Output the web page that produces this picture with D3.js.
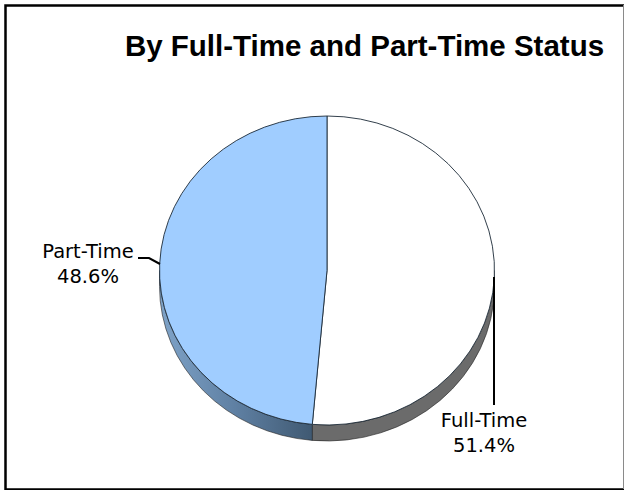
<!DOCTYPE html>
<html><head><meta charset="utf-8">
<script src="https://cdn.jsdelivr.net/npm/d3@7/dist/d3.min.js"></script>
<style>html,body{margin:0;padding:0;background:#fff}svg{display:block}</style></head>
<body><svg id="c" width="624" height="490"></svg>
<script>
const categories = ["Full-Time", "Part-Time"];
const shares = [51.4, 48.6];
const topColors = ["#ffffff", "#a0cdff"];
const title = "By Full-Time and Part-Time Status";

const svg = d3.select("#c");
const cx = 327, cy = 270.5, rx = 167.5, ry = 154.5, depth = 16;

// frame: black left, top and bottom, thin grey right edge
svg.append("path").attr("d","M624,5.5H5.5V489.5H624").attr("fill","none").attr("stroke","#000").attr("stroke-width",2.5);
svg.append("line").attr("x1",623.5).attr("x2",623.5).attr("y1",5).attr("y2",489).attr("stroke","#8a8a8a").attr("stroke-width",1);

svg.append("text").attr("x",364.5).attr("y",55.5).attr("text-anchor","middle")
  .attr("font-family","Liberation Sans").attr("font-weight","bold").attr("font-size",29.5).attr("fill","#000").text(title);

const defs = svg.append("defs");
const g = defs.append("linearGradient").attr("id","wall").attr("gradientUnits","userSpaceOnUse")
  .attr("x1",cx-rx).attr("x2",cx).attr("y1",0).attr("y2",0);
g.append("stop").attr("offset",0).attr("stop-color","#7fa3c8");
g.append("stop").attr("offset",0.45).attr("stop-color","#5f80a3");
g.append("stop").attr("offset",1).attr("stop-color","#3a5269");
const wallFill = ["#6b6b6b","url(#wall)"];

const pie = d3.pie().sort(null).value(d=>d);
const arcs = pie(shares);
const px = a => cx + rx*Math.sin(a), py = a => cy - ry*Math.cos(a);

// side walls: only the front (lower) half of the ellipse is visible
arcs.forEach((d,i)=>{
  const a0 = Math.max(d.startAngle, Math.PI/2), a1 = Math.min(d.endAngle, 3*Math.PI/2);
  if (a1<=a0) return;
  const s0=[px(a0),py(a0)], s1=[px(a1),py(a1)];
  const path = `M${s0[0]},${s0[1]}A${rx},${ry} 0 0 1 ${s1[0]},${s1[1]}L${s1[0]},${s1[1]+depth}A${rx},${ry} 0 0 0 ${s0[0]},${s0[1]+depth}Z`;
  svg.append("path").attr("d",path).attr("fill",wallFill[i]).attr("stroke","#222").attr("stroke-width",0.6);
});

// top face
const arc = d3.arc().innerRadius(0).outerRadius(rx);
svg.append("g").attr("transform",`translate(${cx},${cy}) scale(1,${ry/rx})`)
  .selectAll("path").data(arcs).join("path")
  .attr("d",arc).attr("fill",(d,i)=>topColors[i])
  .attr("stroke","#1c2a38").attr("stroke-width",0.9).attr("vector-effect","non-scaling-stroke");

// leader lines
const line = d3.line();
const lead = [[[494,277],[494,405]],[[138,258],[149,258],[160,264]]];
svg.append("g").selectAll("path").data(lead).join("path")
  .attr("d",line).attr("fill","none").attr("stroke","#000").attr("stroke-width",2);

// labels
const labelAt = [[484,427],[88,258]];
const t = svg.append("g").attr("font-family","DejaVu Sans").attr("font-size",19.5).attr("fill","#000").attr("text-anchor","middle");
categories.forEach((c,i)=>{
  t.append("text").attr("x",labelAt[i][0]).attr("y",labelAt[i][1]).text(c);
  t.append("text").attr("x",labelAt[i][0]).attr("y",labelAt[i][1]+25).text(shares[i].toFixed(1)+"%");
});
</script></body></html>
